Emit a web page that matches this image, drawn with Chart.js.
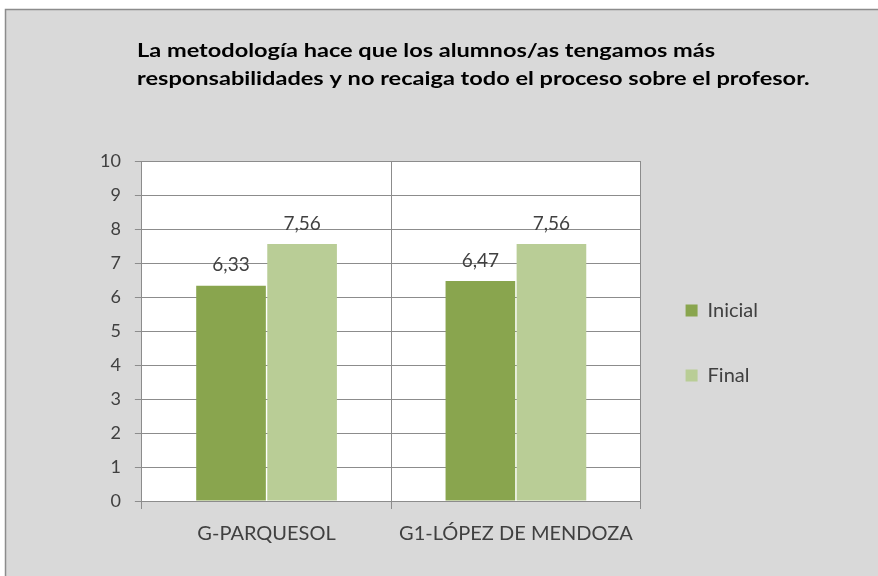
<!DOCTYPE html>
<html>
<head>
<meta charset="utf-8">
<script src="https://cdn.jsdelivr.net/npm/chart.js@4.4.0/dist/chart.umd.min.js"></script>
<style>
  html, body { margin: 0; padding: 0; background: #fff; }
  #wrap { width: 878px; height: 576px; }
</style>
</head>
<body>
<div id="wrap"><canvas id="chart" width="878" height="576"></canvas></div>
<script>
var titleLines = ['La metodología hace que los alumnos/as tengamos más', 'responsabilidades y no recaiga todo el proceso sobre el profesor.'];
var groups = ['G-PARQUESOL', 'G1-LÓPEZ DE MENDOZA'];
var inicial = [6.33, 6.47];
var final = [7.56, 7.56];
var yTicks = [0, 1, 2, 3, 4, 5, 6, 7, 8, 9, 10];

var txt = '#404040';
var fam = 'Lato, "Open Sans", sans-serif';

// gray frame + white plot area + the two-line title
var frame = {
    id: 'frame',
    beforeDraw: function(chart) {
        var c = chart.ctx, a = chart.chartArea;
        c.save();
        c.fillStyle = '#ffffff';
        c.fillRect(0, 0, chart.width, chart.height);
        c.fillStyle = '#d9d9d9';
        c.fillRect(5, 9, chart.width - 5, chart.height - 9);
        c.strokeStyle = '#8c8c8c';
        c.lineWidth = 1.5;
        c.beginPath();
        c.moveTo(5.5, chart.height);
        c.lineTo(5.5, 9.5);
        c.lineTo(chart.width, 9.5);
        c.stroke();
        c.fillStyle = '#ffffff';
        c.fillRect(a.left, a.top, a.right - a.left, a.bottom - a.top);

        // title text is a bit wide in the original, stretch it sideways
        c.fillStyle = '#000';
        c.font = 'bold 19px ' + fam;
        c.textAlign = 'left';
        c.textBaseline = 'alphabetic';
        c.translate(137, 0);
        c.scale(1.24, 1);
        titleLines.forEach(function(line, i) {
            c.fillText(line, 0, 57 + i * 28);
        });
        c.restore();
    }
};

// value labels over the bars
var valueLabels = {
    id: 'valueLabels',
    afterDatasetsDraw: function(chart) {
        var c = chart.ctx;
        c.save();
        c.font = '19px ' + fam;
        c.fillStyle = txt;
        c.textAlign = 'center';
        c.textBaseline = 'bottom';
        chart.data.datasets.forEach(function(ds, i) {
            chart.getDatasetMeta(i).data.forEach(function(bar, j) {
                c.fillText(ds.data[j].toFixed(2).replace('.', ','), bar.x, bar.y - 11);
            });
        });
        c.restore();
    }
};

new Chart(document.getElementById('chart'), {
    type: 'bar',
    data: {
        labels: groups,
        datasets: [
            { label: 'Inicial', data: inicial, backgroundColor: '#89a54e' },
            { label: 'Final', data: final, backgroundColor: '#b9cd96' }
        ]
    },
    options: {
        responsive: false,
        animation: false,
        devicePixelRatio: 1,
        categoryPercentage: 0.57,
        barPercentage: 0.98,
        layout: { padding: { top: 161, left: 86, right: 110, bottom: 17 } },
        plugins: {
            title: { display: false },
            legend: {
                position: 'right',
                fullSize: false,
                title: { display: true, text: ' ', padding: 0, font: { size: 20 } },
                labels: {
                    color: txt,
                    font: { family: fam, size: 20 },
                    boxWidth: 12,
                    boxHeight: 12,
                    padding: 45
                }
            },
            tooltip: { enabled: false }
        },
        scales: {
            x: {
                grid: { color: '#8c8c8c', offset: true, tickLength: 8 },
                border: { color: '#8c8c8c' },
                ticks: { color: txt, font: { family: fam, size: 20 }, padding: 13 }
            },
            y: {
                min: 0,
                max: 10,
                afterBuildTicks: function(axis) {
                    axis.ticks = yTicks.map(function(v) { return { value: v }; });
                },
                grid: { color: '#8c8c8c', tickLength: 7 },
                border: { color: '#8c8c8c' },
                ticks: { color: txt, font: { family: fam, size: 18 }, padding: 14 }
            }
        }
    },
    plugins: [frame, valueLabels]
});
</script>
</body>
</html>
